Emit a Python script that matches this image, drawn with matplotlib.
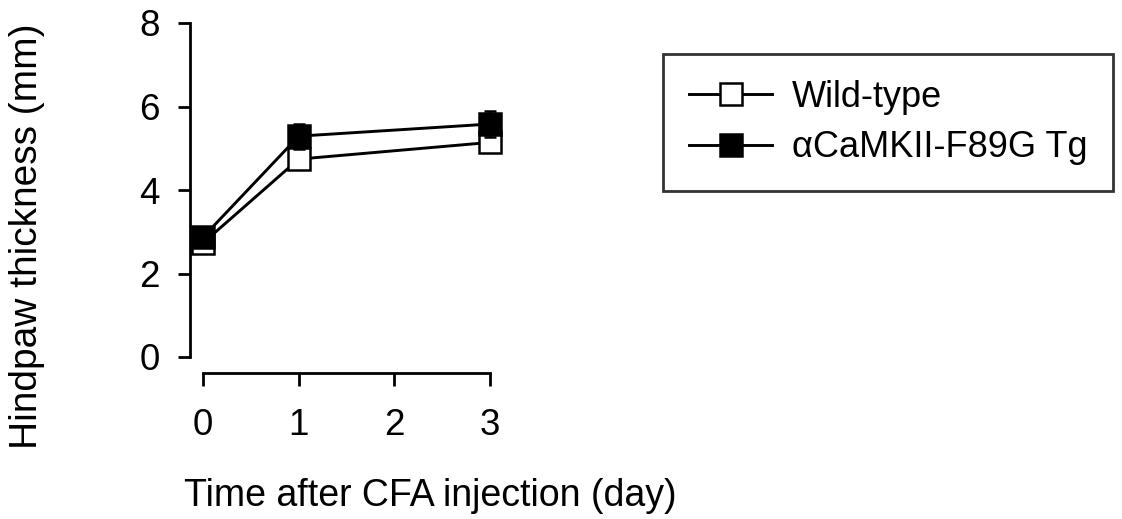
import matplotlib
matplotlib.use("Agg")
import matplotlib.pyplot as plt

# data
days = [0, 1, 3]
wt_mean = [2.73, 4.74, 5.14]
wt_err = [0.10, 0.12, 0.12]
tg_mean = [2.87, 5.29, 5.58]
tg_err = [0.10, 0.30, 0.32]
labels = ["Wild-type", "\u03b1CaMKII-F89G Tg"]
xticks = [0, 1, 2, 3]
yticks = [0, 2, 4, 6, 8]

plt.rcParams['font.family'] = ['Liberation Sans', 'DejaVu Sans']
plt.rcParams['font.size'] = 26

W, H = 1122, 519
fig = plt.figure(figsize=(W / 100, H / 100), dpi=100)

# axes box in pixel terms: left spine at x=190, y=0 at 357, y=8 at 23
ax = fig.add_axes([190 / W, 1 - 357 / H, (495 - 190) / W, (357 - 23) / H])
ax.set_xlim(-13 / 95.7, (495 - 203) / 95.7)
ax.set_ylim(0, 8)

style = dict(color='black', lw=2.1, ms=16, mew=1.8, capsize=4,
             elinewidth=1.8, capthick=1.8, clip_on=False)
ax.errorbar(days, wt_mean, yerr=wt_err, marker='s', mfc='white',
            mec='black', label=labels[0], zorder=3, **style)
ax.errorbar(days, tg_mean, yerr=tg_err, marker='s', mfc='black',
            mec='black', label=labels[1], zorder=4, **style)

for s in ['top', 'right']:
    ax.spines[s].set_visible(False)
ax.spines['left'].set_bounds(0, 8)
ax.spines['bottom'].set_bounds(0, 3)
ax.spines['bottom'].set_position(('outward', 11.5))
for s in ['left', 'bottom']:
    ax.spines[s].set_linewidth(2.0)

ax.set_xticks(xticks)
ax.set_yticks(yticks)
ax.tick_params(axis='both', direction='out', length=9, width=2.0,
               labelsize=26.5)
ax.tick_params(axis='x', pad=16)
ax.tick_params(axis='y', pad=13)

ax.set_ylabel("Hindpaw thickness (mm)", fontsize=28)
ax.yaxis.set_label_coords((27 - 190) / 305, (357 - 236) / 334)
ax.yaxis.label.set_va('center')
ax.set_xlabel("Time after CFA injection (day)", fontsize=27)
ax.xaxis.set_label_coords((430 - 190) / 305, (357 - 496) / 334)
ax.xaxis.label.set_va('center')

handles, labs = ax.get_legend_handles_labels()
handles = [h[0] for h in handles]
leg = fig.legend(handles, labs, loc='upper left',
                 bbox_to_anchor=(663 / W, 1 - 54 / H), borderaxespad=0,
                 fancybox=False, frameon=True, handlelength=2.3,
                 handletextpad=0.55, labelspacing=0.42, borderpad=0.72,
                 fontsize=26)
leg.get_frame().set_edgecolor('black')
leg.get_frame().set_linewidth(2.0)

fig.savefig("out.png", dpi=100)
